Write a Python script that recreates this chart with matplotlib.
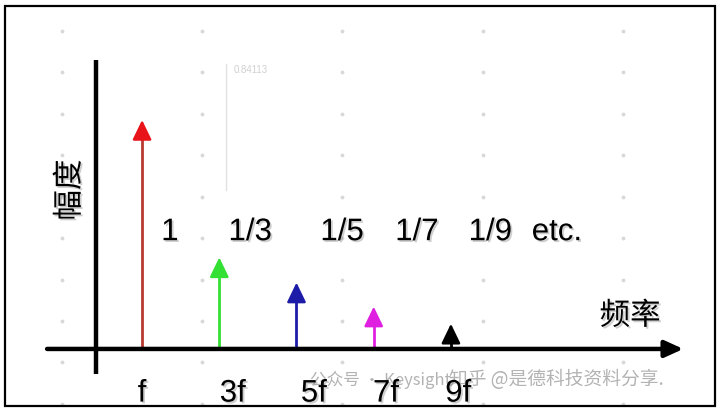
import numpy as np
import matplotlib.pyplot as plt
import matplotlib.patheffects as pe
from matplotlib.patches import Rectangle

plt.rcParams['font.family'] = ['Liberation Sans', 'Noto Sans CJK SC', 'DejaVu Sans']

# 谐波次数와 幅度 (읽은 값)
harmonics = [1, 3, 5, 7, 9]
amplitudes = [1.0, 0.40, 0.29, 0.185, 0.11]
amp_labels = ['1', '1/3', '1/5', '1/7', '1/9', 'etc.']
freq_labels = ['f', '3f', '5f', '7f', '9f']
head_colors = ['#e8141a', '#33e033', '#1c1ca8', '#e020e0', '#000000']
stem_colors = ['#b83a30', '#33e033', '#1c1ca8', '#e020e0', '#000000']

# 텍스트 위치 (layout)
amp_label_x = [1.72, 3.80, 6.18, 8.12, 10.02, 11.75]
freq_label_x = [1.0, 3.35, 5.45, 7.32, 9.19]

fig = plt.figure(figsize=(7.2, 4.11), dpi=100)
ax = fig.add_axes([0, 0, 1, 1])
ax.set_xlim(-2.68, 15.97)
ax.set_ylim(-0.271, 1.524)
ax.axis('off')

shadow = [pe.withSimplePatchShadow(offset=(1.3, -1.3), shadow_rgbFace='#777777', alpha=0.35)]

# 배경 점
gx = np.arange(-1.07, 15, 3.63)
gy = np.arange(-0.24, 1.45, 0.181)
GX, GY = np.meshgrid(gx, gy)
ax.scatter(GX.ravel(), GY.ravel(), s=3, color='#d8d8d8', zorder=0)

# 흐린 주석
ax.plot([3.18, 3.18], [0.694, 1.245], color='#e2e2e2', lw=1, zorder=0)
ax.text(3.38, 1.22, '0.84113', fontsize=7, color='#d0d0d0', va='center')

# 좌표축
ax.plot([-0.19, -0.19], [-0.109, 1.262], color='black', lw=3.2, solid_capstyle='butt', zorder=3)
ax.annotate('', xy=(15.02, 0), xytext=(-1.46, 0),
            arrowprops=dict(arrowstyle='-|>,head_length=1.1,head_width=0.5',
                            color='black', lw=3.2, shrinkA=0, shrinkB=0), zorder=3)

# 스펙트럼 화살표
for h, a, hc, sc in zip(harmonics, amplitudes, head_colors, stem_colors):
    ax.plot([h, h], [0, a - 0.05], color=sc, lw=2.0, zorder=2)
    ax.annotate('', xy=(h, a), xytext=(h, a - 0.075),
                arrowprops=dict(arrowstyle='-|>,head_length=1.2,head_width=0.58',
                                color=hc, lw=1.8, shrinkA=0, shrinkB=0), zorder=2)

for x, lab in zip(amp_label_x, amp_labels):
    ax.text(x, 0.51, lab, fontsize=22.5, ha='center', va='center', path_effects=shadow)

for x, lab in zip(freq_label_x, freq_labels):
    ax.text(x, -0.195, lab, fontsize=22.5, ha='center', va='center', path_effects=shadow)

ax.text(-0.87, 0.694, '幅度', fontsize=22, rotation=90, ha='center', va='center',
        family=['Noto Sans CJK SC', 'DejaVu Sans'], path_effects=shadow)
ax.text(13.64, 0.144, '频率', fontsize=22, ha='center', va='center',
        family=['Noto Sans CJK SC', 'DejaVu Sans'], path_effects=shadow)

# 워터마크
ax.text(5.35, -0.135, '公众号 · Keysight', fontsize=12, color='#a0a0a0', alpha=0.8,
        va='center', family=['Noto Sans CJK SC', 'DejaVu Sans'], zorder=1)
ax.text(8.95, -0.135, '知乎 @是德科技资料分享.', fontsize=13.5, color='#a0a0a0', alpha=0.8,
        va='center', family=['Noto Sans CJK SC', 'DejaVu Sans'], zorder=1)

# 바깥 테두리
fig.patches.append(Rectangle((5 / 720, 5 / 411), 710 / 720, 400 / 411, transform=fig.transFigure,
                             fill=False, edgecolor='black', lw=1.6))

fig.savefig('out.png', dpi=100, facecolor='white')
